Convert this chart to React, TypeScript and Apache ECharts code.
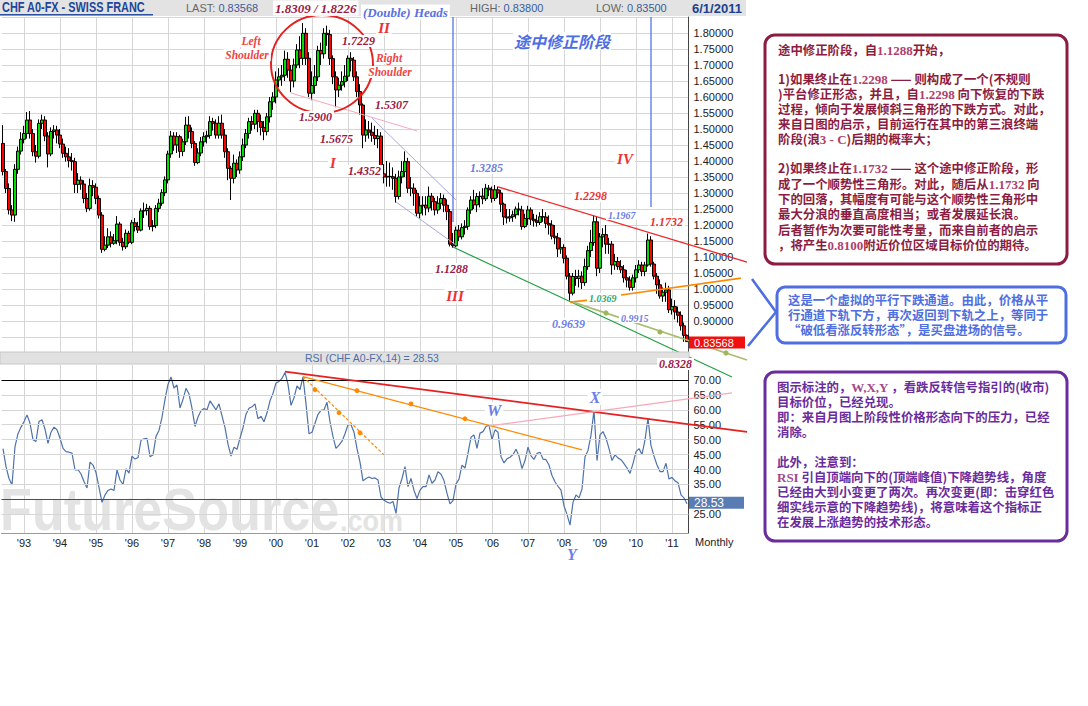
import React, { useEffect, useRef } from "react";
import * as echarts from "echarts";

// ---- monthly candles, rows are [open, close, low, high] ----
const ohlc1992 = [
  [1.455, 1.367, 1.355, 1.512], [1.367, 1.314, 1.3, 1.375], [1.314, 1.247, 1.233, 1.33],
  [1.247, 1.231, 1.212, 1.262], [1.231, 1.374, 1.21, 1.39], [1.374, 1.431, 1.36, 1.445],
  [1.431, 1.468, 1.42, 1.49],
];
const ohlc1993 = [
  [1.468, 1.486, 1.455, 1.51], [1.486, 1.528, 1.47, 1.553], [1.528, 1.486, 1.47, 1.556],
  [1.486, 1.429, 1.415, 1.5], [1.429, 1.415, 1.395, 1.45], [1.415, 1.518, 1.408, 1.53],
  [1.518, 1.528, 1.5, 1.545], [1.528, 1.478, 1.462, 1.54], [1.478, 1.422, 1.38, 1.49],
  [1.422, 1.492, 1.415, 1.505], [1.492, 1.497, 1.47, 1.512], [1.497, 1.481, 1.455, 1.51],
];
const ohlc1994 = [
  [1.481, 1.453, 1.44, 1.5], [1.453, 1.424, 1.41, 1.47], [1.424, 1.413, 1.398, 1.445],
  [1.413, 1.401, 1.38, 1.44], [1.401, 1.398, 1.37, 1.425], [1.398, 1.327, 1.3, 1.41],
  [1.327, 1.34, 1.3, 1.362], [1.34, 1.328, 1.31, 1.352], [1.328, 1.283, 1.268, 1.34],
  [1.283, 1.252, 1.24, 1.3], [1.252, 1.323, 1.245, 1.345], [1.323, 1.318, 1.29, 1.34],
];
const ohlc1995 = [
  [1.318, 1.283, 1.265, 1.33], [1.283, 1.231, 1.22, 1.292], [1.231, 1.124, 1.113, 1.24],
  [1.124, 1.137, 1.118, 1.165], [1.137, 1.163, 1.128, 1.19], [1.163, 1.143, 1.13, 1.18],
  [1.143, 1.151, 1.138, 1.172], [1.151, 1.203, 1.14, 1.228], [1.203, 1.146, 1.135, 1.21],
  [1.146, 1.132, 1.12, 1.16], [1.132, 1.174, 1.125, 1.186], [1.174, 1.146, 1.14, 1.182],
];
const ohlc1996 = [
  [1.146, 1.207, 1.14, 1.216], [1.207, 1.195, 1.18, 1.222], [1.195, 1.184, 1.175, 1.21],
  [1.184, 1.244, 1.18, 1.252], [1.244, 1.245, 1.222, 1.27], [1.245, 1.252, 1.23, 1.266],
  [1.252, 1.195, 1.185, 1.26], [1.195, 1.198, 1.18, 1.215], [1.198, 1.252, 1.19, 1.262],
  [1.252, 1.268, 1.24, 1.282], [1.268, 1.301, 1.26, 1.312], [1.301, 1.341, 1.29, 1.352],
];
const ohlc1997 = [
  [1.341, 1.422, 1.33, 1.432], [1.422, 1.478, 1.41, 1.494], [1.478, 1.45, 1.432, 1.49],
  [1.45, 1.476, 1.425, 1.49], [1.476, 1.43, 1.41, 1.482], [1.43, 1.46, 1.415, 1.47],
  [1.46, 1.512, 1.45, 1.538], [1.512, 1.492, 1.47, 1.54], [1.492, 1.455, 1.44, 1.505],
  [1.455, 1.395, 1.385, 1.462], [1.395, 1.425, 1.39, 1.44], [1.425, 1.46, 1.415, 1.475],
];
const ohlc1998 = [
  [1.46, 1.476, 1.445, 1.49], [1.476, 1.48, 1.455, 1.495], [1.48, 1.523, 1.47, 1.54],
  [1.523, 1.518, 1.495, 1.535], [1.518, 1.481, 1.47, 1.53], [1.481, 1.518, 1.47, 1.54],
  [1.518, 1.481, 1.47, 1.545], [1.481, 1.429, 1.41, 1.5], [1.429, 1.377, 1.34, 1.44],
  [1.377, 1.346, 1.278, 1.385], [1.346, 1.393, 1.33, 1.42], [1.393, 1.372, 1.35, 1.405],
];
const ohlc1999 = [
  [1.372, 1.413, 1.36, 1.43], [1.413, 1.45, 1.4, 1.47], [1.45, 1.486, 1.44, 1.5],
  [1.486, 1.523, 1.47, 1.535], [1.523, 1.515, 1.495, 1.54], [1.515, 1.549, 1.5, 1.56],
  [1.549, 1.523, 1.49, 1.56], [1.523, 1.505, 1.48, 1.545], [1.505, 1.492, 1.465, 1.525],
  [1.492, 1.538, 1.48, 1.55], [1.538, 1.585, 1.52, 1.6], [1.585, 1.6, 1.56, 1.615],
];
const ohlc2000 = [
  [1.6, 1.653, 1.58, 1.68], [1.653, 1.663, 1.63, 1.69], [1.663, 1.668, 1.635, 1.7],
  [1.668, 1.718, 1.65, 1.745], [1.718, 1.684, 1.66, 1.74], [1.684, 1.65, 1.615, 1.7],
  [1.65, 1.7, 1.63, 1.72], [1.7, 1.747, 1.69, 1.765], [1.747, 1.721, 1.69, 1.79],
  [1.721, 1.799, 1.7, 1.831], [1.799, 1.721, 1.7, 1.815], [1.721, 1.612, 1.6, 1.74],
];
const ohlc2001 = [
  [1.612, 1.636, 1.59, 1.68], [1.636, 1.663, 1.61, 1.7], [1.663, 1.745, 1.65, 1.76],
  [1.745, 1.735, 1.7, 1.77], [1.735, 1.799, 1.72, 1.815], [1.799, 1.795, 1.76, 1.823],
  [1.795, 1.72, 1.7, 1.81], [1.72, 1.663, 1.64, 1.73], [1.663, 1.622, 1.568, 1.68],
  [1.622, 1.637, 1.6, 1.66], [1.637, 1.648, 1.62, 1.68], [1.648, 1.665, 1.63, 1.7],
];
const ohlc2002 = [
  [1.665, 1.721, 1.65, 1.73], [1.721, 1.715, 1.68, 1.74], [1.715, 1.663, 1.65, 1.725],
  [1.663, 1.617, 1.6, 1.68], [1.617, 1.575, 1.545, 1.64], [1.575, 1.481, 1.44, 1.58],
  [1.481, 1.497, 1.46, 1.53], [1.497, 1.49, 1.47, 1.525], [1.49, 1.48, 1.46, 1.52],
  [1.48, 1.47, 1.45, 1.51], [1.47, 1.478, 1.44, 1.5], [1.478, 1.36, 1.35, 1.49],
];
const ohlc2003 = [
  [1.36, 1.35, 1.33, 1.39], [1.35, 1.352, 1.32, 1.4], [1.352, 1.351, 1.32, 1.395],
  [1.351, 1.346, 1.31, 1.38], [1.346, 1.289, 1.27, 1.36], [1.289, 1.35, 1.28, 1.37],
  [1.35, 1.367, 1.33, 1.4], [1.367, 1.398, 1.35, 1.43], [1.398, 1.315, 1.3, 1.41],
  [1.315, 1.315, 1.29, 1.35], [1.315, 1.299, 1.26, 1.33], [1.299, 1.237, 1.225, 1.31],
];
const ohlc2004 = [
  [1.237, 1.26, 1.22, 1.29], [1.26, 1.262, 1.23, 1.29], [1.262, 1.253, 1.23, 1.29],
  [1.253, 1.29, 1.24, 1.32], [1.29, 1.273, 1.245, 1.3], [1.273, 1.247, 1.23, 1.285],
  [1.247, 1.268, 1.235, 1.29], [1.268, 1.283, 1.25, 1.3], [1.283, 1.262, 1.24, 1.295],
  [1.262, 1.242, 1.215, 1.28], [1.242, 1.14, 1.133, 1.25], [1.14, 1.135, 1.129, 1.175],
];
const ohlc2005 = [
  [1.135, 1.184, 1.13, 1.195], [1.184, 1.163, 1.15, 1.2], [1.163, 1.192, 1.155, 1.205],
  [1.192, 1.196, 1.17, 1.215], [1.196, 1.247, 1.185, 1.255], [1.247, 1.278, 1.235, 1.29],
  [1.278, 1.263, 1.25, 1.31], [1.263, 1.289, 1.24, 1.3], [1.289, 1.29, 1.255, 1.305],
  [1.29, 1.282, 1.265, 1.315], [1.282, 1.315, 1.275, 1.3285], [1.315, 1.31, 1.29, 1.325],
];
const ohlc2006 = [
  [1.31, 1.283, 1.27, 1.32], [1.283, 1.31, 1.275, 1.325], [1.31, 1.3, 1.285, 1.32],
  [1.3, 1.265, 1.24, 1.31], [1.265, 1.225, 1.2, 1.27], [1.225, 1.222, 1.205, 1.25],
  [1.222, 1.226, 1.21, 1.25], [1.226, 1.232, 1.21, 1.245], [1.232, 1.25, 1.22, 1.258],
  [1.25, 1.247, 1.23, 1.27], [1.247, 1.195, 1.185, 1.26], [1.195, 1.22, 1.19, 1.235],
];
const ohlc2007 = [
  [1.22, 1.247, 1.2, 1.26], [1.247, 1.218, 1.2, 1.255], [1.218, 1.213, 1.195, 1.235],
  [1.213, 1.208, 1.195, 1.232], [1.208, 1.226, 1.2, 1.24], [1.226, 1.225, 1.21, 1.25],
  [1.225, 1.205, 1.19, 1.24], [1.205, 1.2, 1.17, 1.23], [1.2, 1.165, 1.155, 1.215],
  [1.165, 1.16, 1.14, 1.2], [1.16, 1.125, 1.1, 1.175], [1.125, 1.13, 1.11, 1.16],
];
const ohlc2008 = [
  [1.13, 1.096, 1.08, 1.14], [1.096, 1.04, 1.03, 1.105], [1.04, 0.987, 0.964, 1.05],
  [0.987, 1.039, 0.98, 1.05], [1.039, 1.033, 1.01, 1.06], [1.033, 1.04, 1.005, 1.06],
  [1.04, 1.02, 1.0, 1.055], [1.02, 1.07, 1.01, 1.095], [1.07, 1.12, 1.06, 1.135],
  [1.12, 1.145, 1.1, 1.185], [1.145, 1.21, 1.135, 1.2298], [1.21, 1.065, 1.04, 1.225],
];
const ohlc2009 = [
  [1.065, 1.163, 1.05, 1.175], [1.163, 1.17, 1.13, 1.19], [1.17, 1.14, 1.11, 1.2],
  [1.14, 1.14, 1.11, 1.16], [1.14, 1.075, 1.045, 1.15], [1.075, 1.086, 1.06, 1.11],
  [1.086, 1.07, 1.06, 1.1], [1.07, 1.06, 1.05, 1.09], [1.06, 1.035, 1.02, 1.075],
  [1.035, 1.028, 1.005, 1.06], [1.028, 1.005, 0.995, 1.04], [1.005, 1.035, 0.995, 1.045],
];
const ohlc2010 = [
  [1.035, 1.06, 1.02, 1.075], [1.06, 1.075, 1.05, 1.09], [1.075, 1.055, 1.04, 1.085],
  [1.055, 1.075, 1.04, 1.085], [1.075, 1.153, 1.07, 1.1732], [1.153, 1.078, 1.07, 1.165],
  [1.078, 1.04, 1.03, 1.085], [1.04, 1.013, 0.985, 1.05], [1.013, 0.978, 0.97, 1.03],
  [0.978, 0.99, 0.96, 1.005], [0.99, 0.997, 0.96, 1.02], [0.997, 0.935, 0.925, 1.01],
];
const ohlc2011 = [
  [0.935, 0.945, 0.92, 0.97], [0.945, 0.928, 0.905, 0.965], [0.928, 0.918, 0.895, 0.945],
  [0.918, 0.885, 0.87, 0.93], [0.885, 0.855, 0.835, 0.895], [0.855, 0.83568, 0.835, 0.858],
];

// ---- RSI(14), monthly ----
const rsi1992 = [47, 41, 37, 34.8, 47.7, 52, 54.2];
const rsi1993 = [56, 58.3, 55.5, 50, 49.4, 56.1, 56.7, 53.5, 48.8, 52.5, 54.2, 53.3];
const rsi1994 = [50.5, 47.1, 46, 45.8, 45.5, 39.9, 40, 38.5, 36, 33.8, 42.5, 41.5];
const rsi1995 = [39, 34, 29, 31.5, 33, 33.5, 33, 39.9, 36.5, 35, 40.2, 38.8];
const rsi1996 = [44.5, 43.5, 44, 49.8, 50.3, 50.4, 44.3, 44.9, 51.1, 53.1, 57.5, 63.5];
const rsi1997 = [68.5, 71, 67.3, 68.3, 60.6, 63.5, 67.2, 65.3, 60.5, 54.4, 57.6, 59.7];
const rsi1998 = [60.4, 60, 63, 61.5, 60, 62, 58, 54, 48.5, 44.5, 47.5, 46.8];
const rsi1999 = [50.5, 54, 58.5, 60.5, 61, 62, 57, 57.8, 56, 59, 63, 65.5];
const rsi2000 = [69, 69.5, 70.5, 72.5, 68.5, 61.5, 64, 68, 66.8, 71, 62, 52];
const rsi2001 = [52.5, 55.5, 58.5, 59.8, 60, 62.5, 56, 51, 47.1, 48.2, 49.5, 52];
const rsi2002 = [55, 55, 52.5, 47, 42.5, 36.2, 37, 37.5, 37, 37.2, 36.5, 30.8];
const rsi2003 = [29.7, 29.1, 28.7, 29.3, 25.3, 33.8, 37, 41, 34.3, 37, 33, 30.3];
const rsi2004 = [33.1, 34.3, 34.3, 38.2, 35.4, 36.5, 39.3, 38.4, 36.3, 32, 28.5, 29.6];
const rsi2005 = [35.2, 36.8, 41.5, 40.5, 45.5, 50.8, 51.6, 47.1, 52.2, 52.7, 54.4, 54.9];
const rsi2006 = [50, 53.3, 52.5, 44.3, 42.2, 43.6, 44.1, 45, 46.8, 44.5, 40.3, 43];
const rsi2007 = [47.5, 44.6, 43.4, 45.4, 45.8, 43.5, 43.3, 41.5, 38, 35.9, 34.4, 33.1];
const rsi2008 = [27.8, 25, 21.4, 29, 31.5, 30.5, 33.5, 44.3, 46.4, 51.5, 59.8, 43];
const rsi2009 = [51.6, 52.7, 50.5, 47, 43, 44.9, 43.9, 43.3, 42, 40.5, 38.7, 42];
const rsi2010 = [46, 47, 45, 49.9, 57.2, 48, 44.5, 41.5, 39.3, 39.3, 42.1, 36.8];
const rsi2011 = [37.4, 36.2, 35.6, 31.5, 30.5, 28.53];

// [year, first month, candles, rsi]
const yearBlocks: [number, number, number[][], number[]][] = [
  [1992, 6, ohlc1992, rsi1992], [1993, 1, ohlc1993, rsi1993], [1994, 1, ohlc1994, rsi1994],
  [1995, 1, ohlc1995, rsi1995], [1996, 1, ohlc1996, rsi1996], [1997, 1, ohlc1997, rsi1997],
  [1998, 1, ohlc1998, rsi1998], [1999, 1, ohlc1999, rsi1999], [2000, 1, ohlc2000, rsi2000],
  [2001, 1, ohlc2001, rsi2001], [2002, 1, ohlc2002, rsi2002], [2003, 1, ohlc2003, rsi2003],
  [2004, 1, ohlc2004, rsi2004], [2005, 1, ohlc2005, rsi2005], [2006, 1, ohlc2006, rsi2006],
  [2007, 1, ohlc2007, rsi2007], [2008, 1, ohlc2008, rsi2008], [2009, 1, ohlc2009, rsi2009],
  [2010, 1, ohlc2010, rsi2010], [2011, 1, ohlc2011, rsi2011],
];

const lastPrice = 0.83568;
const lastRsi = 28.53;
const hiddenPriceLabel = 0.85; // covered by the last-price tag in the original
const rsiGridLevels = [25, 35, 40, 45, 50, 55, 60, 65];
const rsiOverbought = 70;
const rsiOversold = 30;

// annotation trend lines in data coordinates: [monthIndex, value]
const priceTrendLines = [
  { a: [96, 1.6125], b: [138, 1.494], c: "#f5a9b8", w: 1 },
  { a: [123, 1.534], b: [151, 1.278], c: "#a9a9dc", w: 1 },
  { a: [131, 1.272], b: [151, 1.1375], c: "#a9a9dc", w: 1 },
  { a: [150, 1.85], b: [150, 1.209], c: "#4a68e0", w: 1.2 },
  { a: [216, 1.85], b: [216, 1.256], c: "#4a68e0", w: 1.2 },
  { a: [165, 1.319], b: [248.3, 1.084], c: "#ec2a2a", w: 1.3 },
  { a: [150, 1.131], b: [243, 0.725], c: "#20a044", w: 1.2 },
  { a: [205.7, 0.981], b: [245.7, 1.034], c: "#ff8a00", w: 1.6 },
  { a: [189, 0.959], b: [199, 0.969], c: "#ff8a00", w: 1.6 },
  { a: [189.7, 0.959], b: [248.3, 0.778], c: "#a9bd6e", w: 1.6 },
];
const priceTrendDots = [[201.3, 0.925], [219, 0.866], [240.7, 0.8]];
const rsiTrendLines = [
  { a: [94, 72.8], b: [248.3, 52.6], c: "#e62020", w: 1.8, dash: null },
  { a: [100, 71.1], b: [193.3, 46.6], c: "#ff8a00", w: 1.3, dash: null },
  { a: [100, 71.1], b: [126.7, 44.9], c: "#ff8a00", w: 1.2, dash: [3, 2] },
  { a: [161.7, 54.6], b: [243, 65.7], c: "#f7a8b8", w: 1.3, dash: null },
];
const rsiTrendDots = [[118, 66.4], [136, 62.0], [154.3, 57.0], [104.3, 66.7], [112, 59.0], [119.3, 52.3]];

const SERIF = '"Liberation Serif","Times New Roman",serif';
const SANS = '"Liberation Sans",Arial,sans-serif';
const CJK = '"Noto Sans CJK SC","Noto Sans CJK JP",sans-serif';
const CRIMSON = "#9b1a44";
const RED = "#ec3232";
const BLUE = "#6a7ee6";

// [text, x, y, color, size, align]
const chartNotes: [string, number, number, string, number, string][] = [
  ["Left", 251, 41, "#ee4444", 11.5, "center"],
  ["Shoulder", 247, 55, "#ee4444", 11.5, "center"],
  ["1.7229", 340, 41, CRIMSON, 12, "left"],
  ["II", 384, 28, RED, 15, "center"],
  ["Right", 389, 58, "#ee4444", 11.5, "center"],
  ["Shoulder", 390, 72, "#ee4444", 11.5, "center"],
  ["1.5307", 373, 105, CRIMSON, 12, "left"],
  ["1.5900", 297, 117, CRIMSON, 12, "left"],
  ["1.5675", 318, 139, CRIMSON, 12, "left"],
  ["I", 333, 163, RED, 15, "center"],
  ["1.4352", 346, 171, CRIMSON, 12, "left"],
  ["1.3285", 468, 168, BLUE, 12, "left"],
  ["IV", 625, 159, RED, 15, "center"],
  ["1.2298", 572, 196, RED, 12, "left"],
  ["1.1967", 606, 215, BLUE, 10, "left"],
  ["1.1732", 648, 222, RED, 12, "left"],
  ["1.1288", 433, 269, CRIMSON, 12, "left"],
  ["III", 455, 296, RED, 15, "center"],
  ["1.0369", 587, 298, "#2fa86a", 10, "left"],
  ["0.9639", 550, 324, BLUE, 12, "left"],
  ["0.9915", 619, 318, BLUE, 10, "left"],
  ["0.8328", 657, 364, CRIMSON, 12, "left"],
  ["W", 494, 410, BLUE, 16, "center"],
  ["X", 595, 397, BLUE, 16, "center"],
  ["Y", 572, 554, BLUE, 16, "center"],
];

const box1Lines: [number, string][] = [
  [50, "途中修正阶段，自{n|1.1288}开始，"],
  [79, "1)如果终止在{n|1.2298} —— 则构成了一个(不规则"],
  [94, ")平台修正形态，并且，自{n|1.2298} 向下恢复的下跌"],
  [109, "过程，倾向于发展倾斜三角形的下跌方式。对此，"],
  [124, "来自日图的启示，目前运行在其中的第三浪终端"],
  [139, "阶段(浪{n|3 - C})后期的概率大；"],
  [168, "2)如果终止在{n|1.1732} —— 这个途中修正阶段，形"],
  [184, "成了一个顺势性三角形。对此，随后从{n|1.1732} 向"],
  [199, "下的回落，其幅度有可能与这个顺势性三角形中"],
  [214, "最大分浪的垂直高度相当；或者发展延长浪。"],
  [230, "后者暂作为次要可能性考量，而来自前者的启示"],
  [245, "，将产生{n|0.8100}附近价位区域目标价位的期待。"],
];
const box2Lines: [number, string][] = [
  [300, "这是一个虚拟的平行下跌通道。由此，价格从平"],
  [315, "行通道下轨下方，再次返回到下轨之上，等同于"],
  [330, "“破低看涨反转形态”，是买盘进场的信号。"],
];
const box3Lines: [number, string][] = [
  [387, "图示标注的，{n|W,X,Y} ，看跌反转信号指引的(收市)"],
  [402, "目标价位，已经兑现。"],
  [417, "即：来自月图上阶段性价格形态向下的压力，已经"],
  [432, "消除。"],
  [462, "此外，注意到："],
  [477, "{n|RSI} 引自顶端向下的(顶端峰值)下降趋势线，角度"],
  [492, "已经由大到小变更了两次。再次变更(即：击穿红色"],
  [507, "细实线示意的下降趋势线)，将意味着这个指标正"],
  [522, "在发展上涨趋势的技术形态。"],
];

function buildSeriesData() {
  const categories: string[] = [];
  const candles: number[][] = [];
  const rsi: number[] = [];
  for (const [year, first, rows, rs] of yearBlocks) {
    rows.forEach((row, k) => {
      const m = first + k;
      categories.push(`${year}-${m < 10 ? "0" + m : m}`);
      candles.push(row);
      rsi.push(rs[k]);
    });
  }
  return { categories, candles, rsi };
}

function txt(x: number, y: number, text: string, fill: string, font: string, extra: any = {}) {
  const align = extra.align || "left";
  return {
    type: "text",
    x,
    y,
    z: extra.z ?? 20,
    scaleX: extra.scaleX ?? 1,
    silent: true,
    style: {
      text,
      fill,
      font,
      align,
      textAlign: align,
      verticalAlign: "middle",
      textVerticalAlign: "middle",
      backgroundColor: extra.bg,
      padding: extra.pad,
      rich: extra.rich,
    },
  };
}

function buildGraphics(chart: any) {
  const P = (pt: number[]) => chart.convertToPixel({ gridIndex: 0 }, pt) as number[];
  const R = (pt: number[]) => chart.convertToPixel({ gridIndex: 1 }, pt) as number[];
  const els: any[] = [];

  // watermark
  els.push(txt(0, 509, "FutureSource", "#e3e3e3", `bold 60px ${SANS}`, { z: 1, scaleX: 0.87 }));
  els.push(txt(340, 520, ".com", "#e3e3e3", `bold 30px ${SANS}`, { z: 1, scaleX: 0.9 }));

  // header bar
  els.push({ type: "rect", z: 12, silent: true, shape: { x: 0, y: 0, width: 746, height: 16 }, style: { fill: "#e3e3e3" } });
  els.push({ type: "rect", z: 13, silent: true, shape: { x: 0, y: 14, width: 153, height: 1.5 }, style: { fill: "#2c51a0" } });
  els.push(txt(2, 8, "CHF A0-FX - SWISS FRANC", "#21469a", `bold 14px ${SANS}`, { z: 14, scaleX: 0.78 }));
  const hdrRich = { v: { fill: "#3b5c9c", color: "#3b5c9c", font: `11px ${SANS}` } };
  els.push(txt(186, 8, "LAST: {v|" + lastPrice.toFixed(5) + "}", "#666", `11px ${SANS}`, { z: 14, rich: hdrRich }));
  els.push(txt(470, 8, "HIGH: {v|0.83800}", "#666", `11px ${SANS}`, { z: 14, rich: hdrRich }));
  els.push(txt(596, 8, "LOW: {v|0.83500}", "#666", `11px ${SANS}`, { z: 14, rich: hdrRich }));
  els.push(txt(692, 8, "6/1/2011", "#1d3f8f", `bold 13px ${SANS}`, { z: 14 }));
  els.push(txt(273, 8, "1.8309 / 1.8226", CRIMSON, `italic bold 13px ${SERIF}`, { z: 16, bg: "#fff", pad: [1, 2] }));
  els.push(txt(361, 12, "(Double) Heads", "#5a70e0", `italic bold 13px ${SERIF}`, { z: 16, bg: "#fff", pad: [1, 2] }));

  // RSI header bar
  els.push({ type: "rect", z: 12, silent: true, shape: { x: 0, y: 352, width: 689, height: 12 }, style: { fill: "#e1e1e1", stroke: "#c8c8c8", lineWidth: 1 } });
  els.push(txt(305, 358, "RSI (CHF A0-FX,14) = " + lastRsi.toFixed(2), "#4d6ea8", `10.5px ${SANS}`, { z: 14 }));

  // head & shoulders ellipse
  els.push({ type: "ellipse", z: 11, silent: true, shape: { cx: 322, cy: 64, rx: 51, ry: 49 }, style: { fill: "none", stroke: "#e32222", lineWidth: 2 } });

  // trend lines
  for (const l of priceTrendLines) {
    const a = P(l.a), b = P(l.b);
    els.push({ type: "line", z: 10, silent: true, shape: { x1: a[0], y1: a[1], x2: b[0], y2: b[1] }, style: { stroke: l.c, lineWidth: l.w } });
  }
  for (const d of priceTrendDots) {
    const p = P(d);
    els.push({ type: "circle", z: 10, silent: true, shape: { cx: p[0], cy: p[1], r: 2.6 }, style: { fill: "#9fb55e" } });
  }
  for (const l of rsiTrendLines) {
    const a = R(l.a), b = R(l.b);
    els.push({ type: "line", z: 10, silent: true, shape: { x1: a[0], y1: a[1], x2: b[0], y2: b[1] }, style: { stroke: l.c, lineWidth: l.w, lineDash: l.dash || undefined } });
  }
  for (const d of rsiTrendDots) {
    const p = R(d);
    els.push({ type: "circle", z: 10, silent: true, shape: { cx: p[0], cy: p[1], r: 2.4 }, style: { fill: "#ff8a00" } });
  }

  // chart annotations
  for (const [t, x, y, c, s, al] of chartNotes) {
    els.push(txt(x, y, t, c, `italic bold ${s}px ${SERIF}`, { align: al, bg: "#fff", pad: [0, 2] }));
  }
  els.push(txt(513, 41, "途中修正阶段", "#4d6ee3", `italic bold 16px ${CJK}`, { bg: "#fff", pad: [1, 1] }));

  // last price tag
  const lp = P([yearBlocks.length, lastPrice]);
  els.push({ type: "rect", z: 18, silent: true, shape: { x: 689, y: lp[1] - 5, width: 56, height: 12 }, style: { fill: "#f01010" } });
  els.push(txt(694, lp[1] + 1, lastPrice.toFixed(5), "#fff", `11px ${SANS}`, { z: 19 }));
  const lr = R([0, lastRsi]);
  els.push({ type: "rect", z: 18, silent: true, shape: { x: 689, y: lr[1] - 7, width: 55, height: 12 }, style: { fill: "#5a7cb4" } });
  els.push(txt(694, lr[1] - 1, lastRsi.toFixed(2), "#fff", `12px ${SANS}`, { z: 19 }));
  els.push(txt(695, 542, "Monthly", "#222", `11px ${SANS}`, { z: 14 }));

  // right side boxes
  els.push({ type: "rect", z: 15, silent: true, shape: { x: 765, y: 35, width: 302, height: 229, r: 10 }, style: { fill: "#fff", stroke: "#8c1c40", lineWidth: 3 } });
  els.push({ type: "rect", z: 15, silent: true, shape: { x: 777, y: 287, width: 289, height: 56, r: 8 }, style: { fill: "#fff", stroke: "#4f6fe0", lineWidth: 3 } });
  els.push({ type: "polyline", z: 15, silent: true, shape: { points: [[752, 279], [776, 312], [748, 346]] }, style: { fill: "none", stroke: "#4f6fe0", lineWidth: 2.5 } });
  els.push({ type: "rect", z: 15, silent: true, shape: { x: 765, y: 372, width: 302, height: 169, r: 10 }, style: { fill: "#fff", stroke: "#6b2c9c", lineWidth: 3 } });

  const cjkFont = `bold 12.4px ${CJK}`;
  const rich1 = { n: { font: `bold 13px ${SERIF}`, fill: "#b0406a", color: "#b0406a" } };
  for (const [y, t] of box1Lines) els.push(txt(778, y, t, "#8c1c40", cjkFont, { rich: rich1 }));
  for (const [y, t] of box2Lines) els.push(txt(788, y, t, "#4f6fe0", cjkFont));
  const rich3 = { n: { font: `bold 13px ${SERIF}`, fill: "#a04a8a", color: "#a04a8a" } };
  for (const [y, t] of box3Lines) els.push(txt(777, y, t, "#6b2c9c", cjkFont, { rich: rich3 }));

  return els;
}

export default function App() {
  const ref = useRef<HTMLDivElement | null>(null);
  useEffect(() => {
    document.body.style.margin = "0";
    const el = ref.current;
    if (!el) return;
    const chart = echarts.init(el, null, { renderer: "svg" });
    const { categories, candles, rsi } = buildSeriesData();
    const isJan = (_i: number, v: string) => v.endsWith("-01");
    const gridLine = "#d6d6d6";
    chart.setOption({
      animation: false,
      backgroundColor: "#fff",
      textStyle: { fontFamily: SANS },
      grid: [
        { left: 1.5, top: 17, width: 687, height: 336, outerBoundsMode: "none", containLabel: false },
        { left: 1.5, top: 365, width: 687, height: 168, outerBoundsMode: "none", containLabel: false },
      ],
      xAxis: [
        {
          type: "category", gridIndex: 0, data: categories, boundaryGap: true,
          axisLine: { show: true, lineStyle: { color: "#bdbdbd" } }, axisTick: { show: false }, axisLabel: { show: false },
          splitLine: { show: true, interval: isJan, alignWithLabel: true, lineStyle: { color: gridLine, width: 1 } },
        },
        {
          type: "category", gridIndex: 1, data: categories, boundaryGap: true,
          axisLine: { show: true, lineStyle: { color: "#9a9a9a" } }, axisTick: { show: false },
          axisLabel: { show: true, interval: isJan, margin: 4, color: "#222", fontSize: 11, fontFamily: SANS, formatter: (v: string) => "'" + v.slice(2, 4) },
          splitLine: { show: true, interval: isJan, alignWithLabel: true, lineStyle: { color: gridLine, width: 1 } },
        },
      ],
      yAxis: [
        {
          type: "value", gridIndex: 0, position: "right", min: 0.8, max: 1.85, interval: 0.05, scale: true,
          axisLine: { show: true, lineStyle: { color: "#444" } }, axisTick: { show: false },
          axisLabel: {
            show: true, showMinLabel: false, showMaxLabel: false, margin: 5, color: "#222", fontSize: 11, fontFamily: SANS,
            formatter: (v: number) => (Math.abs(v - hiddenPriceLabel) < 1e-6 ? "" : v.toFixed(5)),
          },
          splitLine: { show: true, lineStyle: { color: gridLine, width: 1 } },
        },
        {
          type: "value", gridIndex: 1, position: "right", min: 18.75, max: 75, scale: true,
          axisLine: { show: true, lineStyle: { color: "#444" } }, axisTick: { show: false },
          axisLabel: { show: false }, splitLine: { show: false },
        },
      ],
      series: [
        {
          type: "candlestick", xAxisIndex: 0, yAxisIndex: 0, data: candles, barWidth: 2.6, z: 3,
          itemStyle: { color: "#00e000", color0: "#ff0000", borderColor: "#000", borderColor0: "#000", borderWidth: 1 },
        },
        {
          type: "line", xAxisIndex: 1, yAxisIndex: 1, data: rsi, symbol: "none", showSymbol: false, z: 3,
          lineStyle: { color: "#4e72ab", width: 1.2 },
          markLine: {
            silent: true, symbol: ["none", "none"], animation: false,
            label: { show: true, position: "end", distance: 5, color: "#222", fontSize: 11, fontFamily: SANS, formatter: (p: any) => Number(p.value).toFixed(2) },
            data: [
              ...rsiGridLevels.map((v) => ({ yAxis: v, lineStyle: { color: gridLine, width: 1, type: "solid" } })),
              { yAxis: rsiOverbought, lineStyle: { color: "#000", width: 1, type: "solid" } },
              { yAxis: rsiOversold, label: { show: false }, lineStyle: { color: "#e01010", width: 1.2, type: "solid" } },
            ],
          },
        },
      ],
    });
    chart.setOption({ graphic: { elements: buildGraphics(chart) } });
    return () => chart.dispose();
  }, []);
  return <div ref={ref} style={{ width: 1088, height: 706, background: "#fff" }} />;
}
